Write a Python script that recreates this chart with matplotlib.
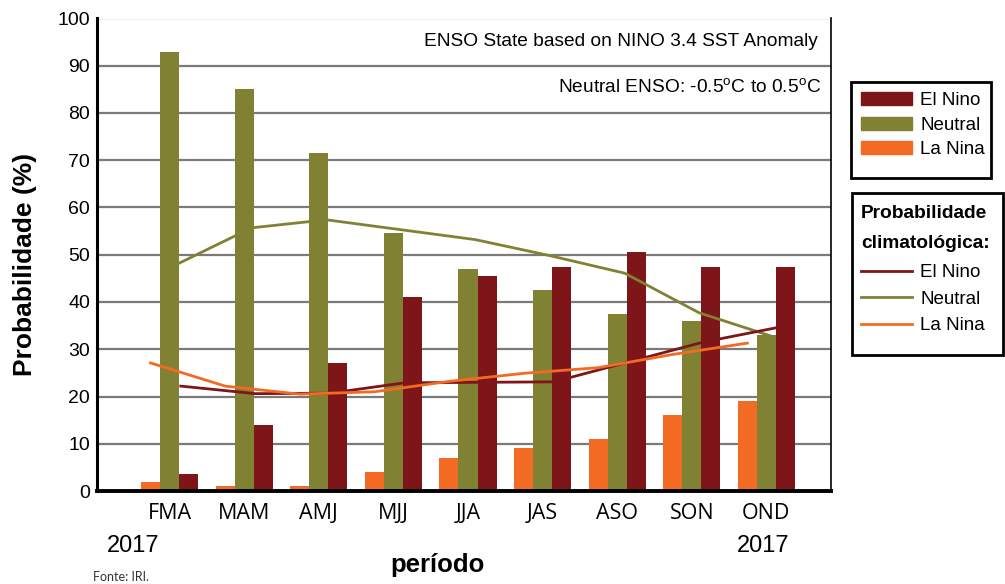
import numpy as np
import matplotlib
matplotlib.use("Agg")
import matplotlib.pyplot as plt
from matplotlib.patches import Rectangle, Patch
from matplotlib.lines import Line2D

plt.rcParams["font.family"] = ["Liberation Sans", "DejaVu Sans"]

# --- dados: previsão IRI de ENSO (probabilidades em %) ---
periodos = ["FMA", "MAM", "AMJ", "MJJ", "JJA", "JAS", "ASO", "SON", "OND"]
la_nina = [2, 1, 1, 4, 7, 9, 11, 16, 19]
neutro = [93, 85, 71.5, 54.5, 47, 42.5, 37.5, 36, 33]
el_nino = [3.5, 14, 27, 41, 45.5, 47.5, 50.5, 47.5, 47.5]

# probabilidade climatológica (linhas)
clim_la_nina = [27.1, 22.2, 20.5, 21.0, 23.2, 24.9, 26.1, 28.9, 31.3]
clim_neutro = [48.0, 55.7, 57.4, 55.3, 53.2, 49.8, 46.1, 37.7, 32.6]
clim_el_nino = [22.2, 20.6, 20.7, 22.9, 23.0, 23.1, 27.3, 31.5, 34.6]

COR_EL = "#7E1518"
COR_NEU = "#818134"
COR_LA = "#F26A23"
GRID = "#7A7A7A"

W, H = 1005, 584
fig = plt.figure(figsize=(W / 100, H / 100), dpi=100)
ax = fig.add_axes([97 / W, 1 - 491 / H, (831 - 97) / W, (491 - 18.5) / H])

x = np.arange(len(periodos))
w = 0.255

ax.bar(x - w, la_nina, w, color=COR_LA, zorder=2)
ax.bar(x, neutro, w, color=COR_NEU, zorder=2)
ax.bar(x + w, el_nino, w, color=COR_EL, zorder=2)

# linhas climatológicas, cada uma alinhada com a sua barra
ax.plot(x - w, clim_la_nina, color=COR_LA, lw=2.0, zorder=4)
ax.plot(x + 0.1, clim_neutro, color=COR_NEU, lw=2.0, zorder=3)
ax.plot(x + 0.15, clim_el_nino, color=COR_EL, lw=2.0, zorder=3)

ax.set_xlim(-0.973, 8.866)
ax.set_ylim(0, 100)
ax.set_yticks(np.arange(0, 101, 10))
ax.yaxis.grid(True, color=GRID, lw=1.6, zorder=0)
ax.set_axisbelow(True)

ax.set_xticks(x, periodos, fontfamily="Open Sans", fontsize=15.5)
ax.tick_params(axis="x", length=0, pad=8.5)
ax.tick_params(axis="y", length=0, pad=5, labelsize=14)

ax.spines["top"].set_visible(False)
ax.spines["left"].set_linewidth(2.2)
ax.spines["bottom"].set_linewidth(2.8)
ax.spines["right"].set_linewidth(1.2)
for s in ["left", "bottom", "right"]:
    ax.spines[s].set_color("black")

# textos
fig.text(818 / W, 1 - 41 / H, "ENSO State based on NINO 3.4 SST Anomaly",
         ha="right", va="center", fontsize=13.8)
fig.text(821 / W, 1 - 88 / H,
         r"Neutral ENSO: -0.5$^{\mathregular{o}}$C to 0.5$^{\mathregular{o}}$C",
         ha="right", va="center", fontsize=13.8)

fig.text(25 / W, 1 - 264 / H, "Probabilidade (%)", rotation=90,
         ha="center", va="center", fontsize=19, fontweight="bold")
fig.text(438 / W, 1 - 572 / H, "período", ha="center", va="baseline",
         fontsize=18.5, fontweight="bold")
fig.text(133 / W, 1 - 546 / H, "2017", ha="center", va="center", fontsize=17)
fig.text(763 / W, 1 - 546 / H, "2017", ha="center", va="center", fontsize=17)
fig.text(93 / W, 1 - 577 / H, "Fonte: IRI.", ha="left", va="center",
         fontsize=9, fontfamily="Lato", color="#333333")

# legenda das barras
fig.patches.append(Rectangle((851 / W, 1 - 178 / H), (991 - 851) / W, (178 - 82) / H,
                             transform=fig.transFigure, fill=False,
                             ec="black", lw=2))
barras = [Patch(color=COR_EL, label="El Nino"),
          Patch(color=COR_NEU, label="Neutral"),
          Patch(color=COR_LA, label="La Nina")]
fig.legend(handles=barras, loc="upper left", bbox_to_anchor=(861 / W, 1 - 92 / H),
           frameon=False, borderpad=0, borderaxespad=0, fontsize=13.5,
           handlelength=2.7, handleheight=0.7, handletextpad=0.45,
           labelspacing=0.4)

# legenda das linhas climatológicas
fig.patches.append(Rectangle((852 / W, 1 - 355 / H), (1003 - 852) / W, (355 - 193) / H,
                             transform=fig.transFigure, fill=False,
                             ec="black", lw=2))
fig.text(861 / W, 1 - 218 / H, "Probabilidade", ha="left", va="baseline",
         fontsize=13.8, fontweight="bold")
fig.text(861 / W, 1 - 248 / H, "climatológica:", ha="left", va="baseline",
         fontsize=13.8, fontweight="bold")
linhas = [Line2D([], [], color=COR_EL, lw=2, label="El Nino"),
          Line2D([], [], color=COR_NEU, lw=2, label="Neutral"),
          Line2D([], [], color=COR_LA, lw=2, label="La Nina")]
fig.legend(handles=linhas, loc="upper left", bbox_to_anchor=(861 / W, 1 - 264 / H),
           frameon=False, borderpad=0, borderaxespad=0, fontsize=13.5,
           handlelength=2.7, handletextpad=0.45, labelspacing=0.5)

fig.savefig("out.png", dpi=100)
